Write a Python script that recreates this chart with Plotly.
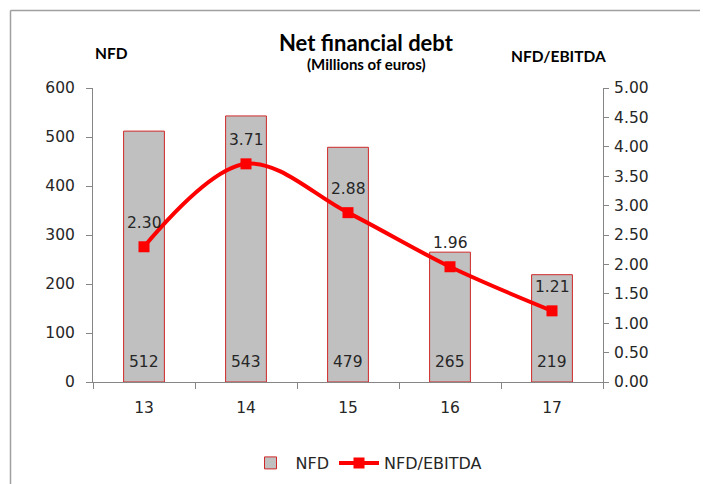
import plotly.graph_objects as go

years = ["13", "14", "15", "16", "17"]
nfd = [512, 543, 479, 265, 219]
ratio = [2.30, 3.71, 2.88, 1.96, 1.21]
left_ticks = [0, 100, 200, 300, 400, 500, 600]
right_ticks = [0, 0.5, 1, 1.5, 2, 2.5, 3, 3.5, 4, 4.5, 5]

# page body has an 8px margin: target pixel positions are shifted accordingly
OFF = 8
W, H = 708 - OFF, 484 - OFF
L, R, T, B = 93 - OFF, 603 - OFF, 88 - OFF, 382 - OFF
LABEL_FONT = dict(family="DejaVu Sans", size=15.5, color="#262626")

fig = go.Figure()
fig.add_trace(go.Bar(
    x=years, y=nfd, name="NFD", width=0.4,
    marker=dict(color="#C0C0C0", line=dict(color="#D02828", width=1)),
))
fig.add_trace(go.Scatter(
    x=years, y=ratio, name="NFD/EBITDA", yaxis="y2",
    mode="lines+markers", line=dict(color="#FF0000", width=4, shape="spline", smoothing=1),
    marker=dict(symbol="square", size=11, color="#FF0000"),
    cliponaxis=False,
))

def px(x):
    return (x - OFF - L) / (R - L)

def py(y):
    return (B - (y - OFF)) / (B - T)

axis_common = dict(showline=True, linecolor="#868686", linewidth=1, ticks="outside",
                   tickcolor="#868686", showgrid=False, zeroline=False, automargin=False,
                   tickfont=LABEL_FONT)

annotations = [
    dict(text="<b>Net financial debt</b>", x=px(366), y=py(42), xref="paper", yref="paper",
         xanchor="center", yanchor="middle", showarrow=False,
         font=dict(family="Lato", size=22, color="#000000")),
    dict(text="<b>(Millions of euros)</b>", x=px(366), y=py(64), xref="paper", yref="paper",
         xanchor="center", yanchor="middle", showarrow=False,
         font=dict(family="Lato", size=15, color="#000000")),
    dict(text="<b>NFD</b>", x=px(111), y=py(53), xref="paper", yref="paper",
         xanchor="center", yanchor="middle", showarrow=False,
         font=dict(family="Lato", size=15.5, color="#000000")),
    dict(text="<b>NFD/EBITDA</b>", x=px(558), y=py(56), xref="paper", yref="paper",
         xanchor="center", yanchor="middle", showarrow=False,
         font=dict(family="Lato", size=15.5, color="#000000")),
]
for i, v in enumerate(ratio):
    annotations.append(dict(text=f"{v:.2f}", x=i, y=v, xref="x", yref="y2", yshift=24,
                            xanchor="center", yanchor="middle", showarrow=False, font=LABEL_FONT))
for i, v in enumerate(nfd):
    annotations.append(dict(text=str(v), x=i, y=0, xref="x", yref="y", yshift=20,
                            xanchor="center", yanchor="middle", showarrow=False, font=LABEL_FONT))

fig.update_layout(
    width=W, height=H, plot_bgcolor="white", paper_bgcolor="white",
    margin=dict(l=L, r=W - R, t=T, b=H - B, autoexpand=False),
    showlegend=True,
    legend=dict(orientation="h", x=px(366), xanchor="center", y=py(463), yanchor="middle",
                font=dict(family="DejaVu Sans", size=16, color="#262626"),
                itemwidth=40, tracegroupgap=0),
    xaxis=dict(type="category", range=[-0.5, len(years) - 0.5], tickson="boundaries",
               ticklen=6, tickangle=0, ticklabelstandoff=11, **axis_common),
    yaxis=dict(range=[0, 600], tickvals=left_ticks, ticklen=6, ticklabelstandoff=8, **axis_common),
    yaxis2=dict(range=[0, 5], tickvals=right_ticks, tickformat=".2f", overlaying="y",
                side="right", ticklen=5, ticklabelstandoff=2, **axis_common),
    annotations=annotations,
    shapes=[
        dict(type="line", xref="paper", yref="paper", x0=px(10.5), x1=px(708), y0=py(10.5), y1=py(10.5),
             line=dict(color="#A0A0A0", width=1.5)),
        dict(type="line", xref="paper", yref="paper", x0=px(10.5), x1=px(10.5), y0=py(10.5), y1=py(484),
             line=dict(color="#A0A0A0", width=1.5)),
    ],
)

fig.write_html("out.html")
